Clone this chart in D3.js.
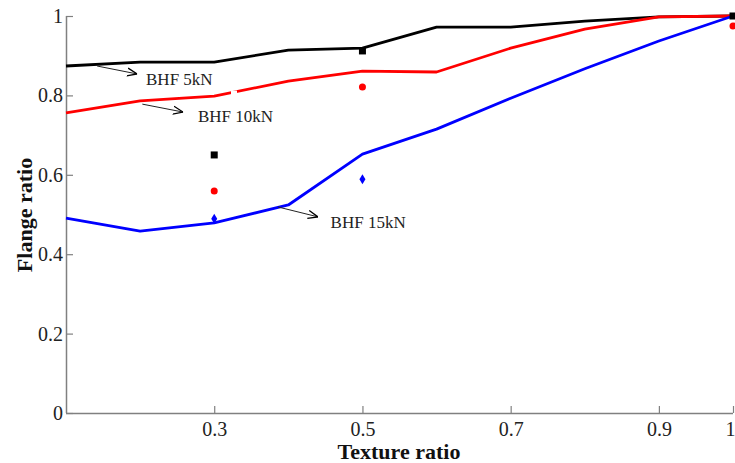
<!DOCTYPE html>
<html><head><meta charset="utf-8">
<script src="https://cdn.jsdelivr.net/npm/d3@7"></script>
<style>body{margin:0;background:#fff}svg{display:block}</style>
</head><body>
<svg id="c" width="735" height="463"></svg>
<script>
const xs = [0.1,0.2,0.3,0.4,0.5,0.6,0.7,0.8,0.9,1.0];
const bhf5 = [0.874,0.884,0.884,0.914,0.919,0.972,0.972,0.987,0.998,1.0];
const bhf10 = [0.756,0.786,0.798,0.836,0.861,0.859,0.919,0.967,0.998,1.0];
const bhf15 = [0.491,0.458,0.479,0.524,0.652,0.715,0.793,0.867,0.937,1.0];
const ptX = [0.3,0.5,1.0];
const pt5 = [0.650,0.912,1.0];
const pt10 = [0.559,0.821,0.975];
const pt15X = [0.3,0.5];
const pt15 = [0.489,0.589];
const xTicks = [0.3,0.5,0.7,0.9,1];
const yTicks = [0,0.2,0.4,0.6,0.8,1];
const labels = ["BHF 5kN","BHF 10kN","BHF 15kN"];

const svg = d3.select("#c");
const x = d3.scaleLinear().domain([0.1,1]).range([66,733]);
const y = d3.scaleLinear().domain([0,1]).range([413,16]);
const font = "Liberation Serif, Times New Roman, serif";

// axes
const gx = svg.append("g").attr("transform","translate(0,413)")
  .call(d3.axisBottom(x).tickValues(xTicks).tickSize(-7).tickPadding(9).tickFormat(d=>d===1?"1":d3.format(".1f")(d)));
const gy = svg.append("g").attr("transform","translate(66,0)")
  .call(d3.axisLeft(y).tickValues(yTicks).tickSize(-7).tickPadding(3).tickFormat(d=>(d===0||d===1)?String(d):d3.format(".1f")(d)));
[gx,gy].forEach(g=>{
  g.attr("font-family",font).attr("font-size",20);
  g.select(".domain").attr("stroke","#808080").attr("stroke-width",1.5);
  g.selectAll(".tick line").attr("stroke","#808080").attr("stroke-width",1.2);
  g.selectAll(".tick text").attr("font-family",font).attr("font-size",20).attr("fill","#222");
});
gx.selectAll(".tick text").filter(d=>d===1).attr("dx",-3);
gy.select(".domain").attr("d","M0.5,413V16");
gx.select(".domain").attr("d","M66,0.5H733");

const line = d3.line().x((d,i)=>x(xs[i])).y(d=>y(d));
const series = [[bhf5,"#000"],[bhf10,"#ff0000"],[bhf15,"#0000ff"]];
series.forEach(([s,c])=>{
  svg.append("path").attr("d",line(s)).attr("fill","none").attr("stroke",c).attr("stroke-width",2.8).attr("stroke-linejoin","round");
});
// small gap in red line
svg.append("rect").attr("x",231).attr("y",y(0.812)).attr("width",6).attr("height",8).attr("fill","#fff");

// markers
svg.selectAll(".sq").data(ptX).enter().append("rect")
  .attr("x",(d)=>x(d)-3.5).attr("y",(d,i)=>y(pt5[i])-3.5).attr("width",7).attr("height",7).attr("fill","#000");
svg.selectAll(".ci").data(ptX).enter().append("circle")
  .attr("cx",d=>x(d)).attr("cy",(d,i)=>y(pt10[i])).attr("r",3.5).attr("fill","#ff0000");
svg.selectAll(".di").data(pt15X).enter().append("path")
  .attr("d",(d,i)=>{const cx=x(d),cy=y(pt15[i]);return `M${cx},${cy-5}L${cx+3},${cy}L${cx},${cy+5}L${cx-3},${cy}Z`;})
  .attr("fill","#0000ff");

// annotations
const defs = svg.append("defs");
defs.append("marker").attr("id","ah").attr("viewBox","0 0 10 10").attr("refX",10).attr("refY",5)
  .attr("markerWidth",10).attr("markerHeight",10).attr("markerUnits","userSpaceOnUse").attr("orient","auto")
  .append("path").attr("d","M0,1L10,5L0,9").attr("fill","none").attr("stroke","#000").attr("stroke-width",1.3);
const annAx = [0.142,0.203,0.386];
const annAy = [0.874,0.778,0.519];
const annTx = [0.196,0.258,0.440];
const annTy = [0.854,0.758,0.494];
const annLx = [0.208,0.278,0.457];
const annLy = [0.825,0.733,0.466];
labels.forEach((t,i)=>{
  svg.append("line").attr("x1",x(annAx[i])).attr("y1",y(annAy[i])).attr("x2",x(annTx[i])).attr("y2",y(annTy[i]))
    .attr("stroke","#222").attr("stroke-width",1).attr("marker-end","url(#ah)");
  svg.append("text").attr("x",x(annLx[i])).attr("y",y(annLy[i])).text(t)
    .attr("font-family",font).attr("font-size",17).attr("fill","#222");
});

// titles
svg.append("text").attr("x",399).attr("y",459).attr("text-anchor","middle").text("Texture ratio")
  .attr("font-family",font).attr("font-size",22).attr("font-weight","bold").attr("fill","#111");
svg.append("text").attr("transform","translate(32,215) rotate(-90)").attr("text-anchor","middle").text("Flange ratio")
  .attr("font-family",font).attr("font-size",22).attr("font-weight","bold").attr("fill","#111");
</script>
</body></html>
